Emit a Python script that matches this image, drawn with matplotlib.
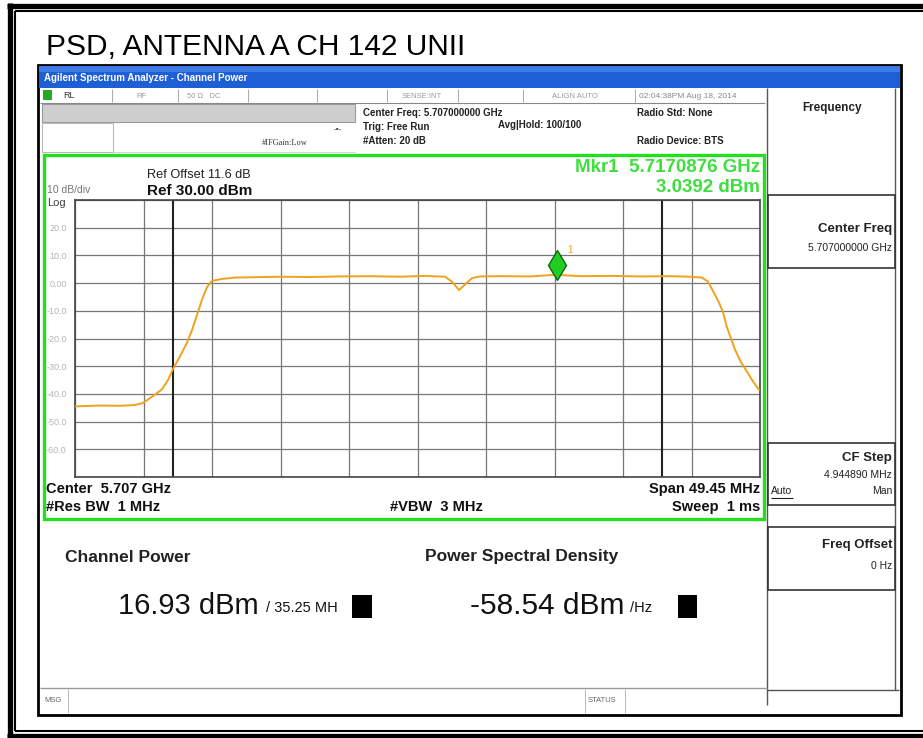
import matplotlib
matplotlib.use("Agg")
import matplotlib.pyplot as plt
import matplotlib.transforms as mtransforms
from matplotlib.patches import Rectangle
import numpy as np

plt.rcParams['font.family'] = ['Liberation Sans', 'DejaVu Sans']

title = "PSD, ANTENNA A CH 142 UNII"
center_ghz = 5.707
span_mhz = 49.45
ref_level = 30.0
db_per_div = 10.0
chan_bw_mhz = 35.25

freq_ghz = [5.682275, 5.684080, 5.685520, 5.686610, 5.687180, 5.687690, 5.688120,
            5.688560, 5.688990, 5.689350, 5.689850, 5.690360, 5.690720, 5.691080,
            5.691440, 5.691800, 5.692160, 5.692890, 5.693830, 5.694910, 5.697070,
            5.699240, 5.701410, 5.703570, 5.705740, 5.707540, 5.708990, 5.709490,
            5.710000, 5.710430, 5.710940, 5.711510, 5.712960, 5.715120, 5.717000,
            5.718730, 5.720900, 5.723060, 5.725230, 5.726670, 5.727540, 5.727970,
            5.728400, 5.728760, 5.729050, 5.729340, 5.729630, 5.729920, 5.730350,
            5.730790, 5.731220, 5.731650]
level_dbm = [-44.5, -44.2, -44.3, -44.0, -43.3, -41.5, -40.0,
             -38.3, -35.0, -31.0, -26.5, -21.5, -17.0, -11.5,
             -6.0, -1.5, 0.8, 1.5, 2.0, 2.1, 2.3,
             2.2, 2.4, 2.5, 2.3, 2.6, 2.3, 0.5,
             -2.5, -0.5, 1.8, 2.4, 2.5, 2.4, 3.0,
             2.5, 2.6, 2.4, 2.5, 2.3, 2.0, 0.5,
             -3.5, -7.0, -10.5, -16.0, -20.0, -24.0, -28.5,
             -32.0, -35.5, -38.5]

mkr_freq_ghz = 5.7170876
mkr_level = 3.0392
ytick_text = ["20.0", "10.0", "0.00", "-10.0", "-20.0", "-30.0", "-40.0", "-50.0", "-60.0"]

W, H = 923, 738
fig = plt.figure(figsize=(W / 100, H / 100), dpi=100)
fig.patch.set_facecolor("white")

bg = fig.add_axes([0, 0, 1, 1])
bg.set_xlim(0, W)
bg.set_ylim(H, 0)
bg.axis("off")


def line(x0, y0, x1, y1, lw=1, color="black", z=2):
    bg.plot([x0, x1], [y0, y1], color=color, lw=lw, solid_capstyle="butt", zorder=z)


def txt(x, y, s, size=8, ha="left", color="black", weight="normal", **kw):
    bg.text(x, y, s, fontsize=size, ha=ha, va="center", color=color,
            fontweight=weight, zorder=6, **kw)


# outer page frame (thick + thin double line)
line(7, 5.5, W, 5.5, lw=3.8)
line(9.5, 3, 9.5, H, lw=3.8)
line(7, 736, W, 736, lw=3.8)
line(15, 11, W, 11, lw=1.5)
line(15, 11, 15, 731, lw=1.5)
line(15, 731, W, 731, lw=1.5)

# page title
txt(46, 47, title, size=21.5)

# analyzer window
bg.add_patch(Rectangle((38, 65), 863, 650, facecolor="white", edgecolor="black", lw=2, zorder=1))
bg.add_patch(Rectangle((39, 66), 861, 22, facecolor="#1f5fd6", edgecolor="none", zorder=2))
bg.add_patch(Rectangle((39, 66), 861, 6, facecolor="#3d7be8", edgecolor="none", zorder=2))
txt(44, 78, "Agilent Spectrum Analyzer - Channel Power", size=7, color="white", weight="bold")

# status row
line(40, 103, 765, 103, lw=0.8, color="#888888")
bg.add_patch(Rectangle((43, 90), 9, 10, facecolor="#22aa22", edgecolor="none", zorder=3))
txt(63, 96, "RL", size=6.5, color="#333333")
txt(136, 96, "RF", size=5.5, color="#999999")
txt(187, 96, "50 \u03a9   DC", size=5.5, color="#999999")
txt(402, 96, "SENSE:INT", size=5.5, color="#999999")
txt(552, 96, "ALIGN AUTO", size=5.5, color="#999999")
txt(639, 96, "02:04:38PM Aug 18, 2014", size=6, color="#888888")
for sx in [112, 178, 248, 317, 387, 458, 523, 635]:
    line(sx, 89, sx, 102, lw=0.7, color="#aaaaaa")

bg.add_patch(Rectangle((42, 104), 313, 18, facecolor="#cfcfcf", edgecolor="#999999", lw=0.8, zorder=2))
bg.add_patch(Rectangle((42, 123), 71, 29, facecolor="white", edgecolor="#bbbbbb", lw=0.8, zorder=2))
line(113, 152, 355, 152, lw=0.6, color="#cccccc")
txt(334, 130, "-\u2022-", size=6, color="#333333")
txt(262, 143, "#IFGain:Low", size=6, color="#333333", family=["Liberation Serif"])
txt(363, 113, "Center Freq: 5.707000000 GHz", size=7, weight="bold", color="#222222")
txt(363, 127, "Trig: Free Run", size=7, weight="bold", color="#222222")
txt(498, 125, "Avg|Hold: 100/100", size=7, weight="bold", color="#222222")
txt(363, 141, "#Atten: 20 dB", size=7, weight="bold", color="#222222")
txt(637, 113, "Radio Std: None", size=7, weight="bold", color="#222222")
txt(637, 141, "Radio Device: BTS", size=7, weight="bold", color="#222222")

# right soft-key panel
line(767, 88, 767, 705, lw=1, color="#555555")
line(895, 88, 895, 690, lw=1, color="#555555")
line(767, 690, 899, 690, lw=1, color="#555555")
txt(832, 108, "Frequency", size=8.5, ha="center", weight="bold", color="#222222")
for (y0, y1) in [(195, 268), (443, 505), (527, 590)]:
    bg.add_patch(Rectangle((768, y0), 127, y1 - y0, facecolor="white",
                           edgecolor="#333333", lw=1.2, zorder=2))
txt(892, 229, "Center Freq", size=9.5, ha="right", weight="bold", color="#222222")
txt(892, 248, "5.707000000 GHz", size=7.5, ha="right", color="#222222")
txt(892, 458, "CF Step", size=9.5, ha="right", weight="bold", color="#222222")
txt(892, 475, "4.944890 MHz", size=7.5, ha="right", color="#222222")
txt(771, 491, "Auto", size=7.5, color="#222222")
line(771, 498, 793, 498, lw=0.8, color="#222222", z=3)
txt(892, 491, "Man", size=7.5, ha="right", color="#222222")
txt(892, 545, "Freq Offset", size=9.5, ha="right", weight="bold", color="#222222")
txt(892, 566, "0 Hz", size=7.5, ha="right", color="#222222")

# green graticule frame
bg.add_patch(Rectangle((44, 155), 720, 364, facecolor="none", edgecolor="#22e01c", lw=2.4, zorder=4))
txt(147, 175, "Ref Offset 11.6 dB", size=9.2, color="#222222")
txt(147, 191, "Ref %.2f dBm" % ref_level, size=11, weight="bold", color="#111111")
txt(47, 190, "10 dB/div", size=7.5, color="#777777")
txt(47, 203, "Log", size=8, color="#444444")
txt(760, 168, "Mkr1  %.7f GHz" % mkr_freq_ghz, size=13.5, ha="right", weight="bold", color="#3ddf3d")
txt(760, 187, "%.4f dBm" % mkr_level, size=13.5, ha="right", weight="bold", color="#3ddf3d")
txt(46, 489, "Center  %.3f GHz" % center_ghz, size=10.5, weight="bold", color="#111111")
txt(46, 507, "#Res BW  1 MHz", size=10.5, weight="bold", color="#111111")
txt(390, 507, "#VBW  3 MHz", size=10.5, weight="bold", color="#111111")
txt(760, 489, "Span %.2f MHz" % span_mhz, size=10.5, ha="right", weight="bold", color="#111111")
txt(760, 507, "Sweep  1 ms", size=10.5, ha="right", weight="bold", color="#111111")

# results area
txt(65, 557, "Channel Power", size=12.5, weight="bold", color="#222222")
txt(425, 557, "Power Spectral Density", size=12.5, weight="bold", color="#222222")
txt(118, 606, "16.93 dBm", size=21, color="#111111")
txt(266, 608, "/ %.2f MH" % chan_bw_mhz, size=10.5, color="#111111")
bg.add_patch(Rectangle((352, 595), 20, 23, facecolor="black", edgecolor="none", zorder=7))
txt(470, 606, "-58.54 dBm", size=21.5, color="#111111")
txt(630, 608, "/Hz", size=10.5, color="#111111")
bg.add_patch(Rectangle((678, 595), 19, 23, facecolor="black", edgecolor="none", zorder=7))

# message bar
line(40, 688, 767, 688, lw=1, color="#999999")
line(68, 689, 68, 713, lw=0.7, color="#bbbbbb")
line(585, 689, 585, 713, lw=0.7, color="#bbbbbb")
line(625, 689, 625, 713, lw=0.7, color="#bbbbbb")
txt(44, 700, "MSG", size=5.5, color="#666666")
txt(588, 700, "STATUS", size=5.5, color="#666666")

# ---- spectrum trace ----
px_left, px_right, px_top, px_bot = 75, 760, 200, 477
ax = fig.add_axes([px_left / W, 1 - px_bot / H, (px_right - px_left) / W, (px_bot - px_top) / H])
f_start = center_ghz - span_mhz / 2000
f_stop = center_ghz + span_mhz / 2000
ax.set_xlim(f_start, f_stop)
ax.set_ylim(ref_level - 10 * db_per_div, ref_level)
ax.set_xticks(np.linspace(f_start, f_stop, 11))
ax.set_xticklabels([])
ax.set_yticks([ref_level - k * db_per_div for k in range(11)])
ax.set_yticklabels([""] + ytick_text + [""])
ax.tick_params(length=0, labelsize=6.5, labelcolor="#b5b5b5", pad=6)
ax.grid(True, color="#777777", lw=0.9)
for sp in ax.spines.values():
    sp.set_color("#444444")
    sp.set_linewidth(1.2)

for edge in [center_ghz - chan_bw_mhz / 2000, center_ghz + chan_bw_mhz / 2000]:
    ax.axvline(edge, color="#222222", lw=1.5, zorder=2)

ax.plot(freq_ghz, level_dbm, color="#f0a21c", lw=1.4, zorder=3)

mk_tr = mtransforms.offset_copy(ax.transData, fig=fig, x=0, y=10, units="dots")
ax.plot([mkr_freq_ghz], [mkr_level], marker="d", markersize=15, color="#22cc22",
        markeredgecolor="#116611", transform=mk_tr, zorder=4)
lbl_tr = mtransforms.offset_copy(ax.transData, fig=fig, x=10, y=22, units="dots")
ax.text(mkr_freq_ghz, mkr_level, "1", transform=lbl_tr, fontsize=7, color="#f0a21c")

fig.savefig("out.png", dpi=100)
